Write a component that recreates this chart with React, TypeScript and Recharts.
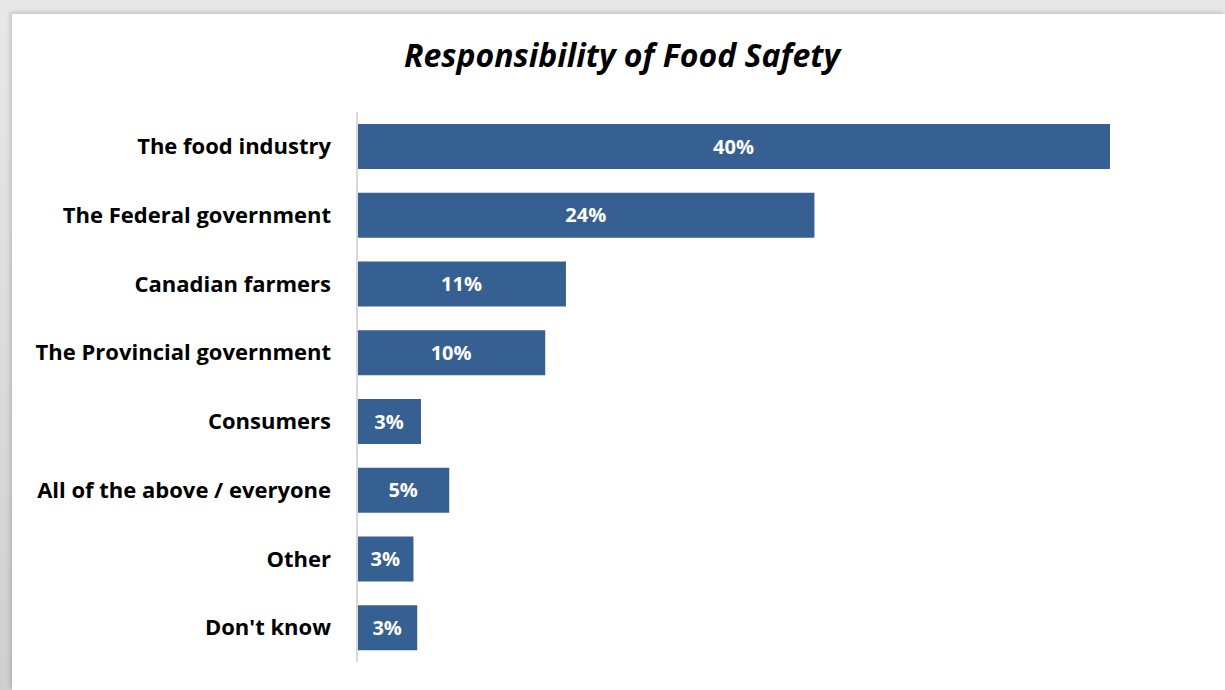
import React from "react";
import { BarChart, Bar, XAxis, YAxis, LabelList } from "recharts";

// survey answers, top to bottom
const categories = [
  "The food industry",
  "The Federal government",
  "Canadian farmers",
  "The Provincial government",
  "Consumers",
  "All of the above / everyone",
  "Other",
  "Don't know",
];
// bar lengths (labels show them rounded)
const shares = [40.0, 24.3, 11.1, 10.0, 3.4, 4.9, 3.0, 3.2];
const shownLabels = ["40%", "24%", "11%", "10%", "3%", "5%", "3%", "3%"];

const data = categories.map((name, i) => ({ name, share: shares[i], label: shownLabels[i] }));

const FONT = "'Open Sans', Lato, sans-serif";

export default function App() {
  return (
    <div style={{ position: "fixed", left: 0, top: 0, width: 1225, height: 690, background: "#fff", overflow: "hidden" }}>
      {/* grey frame shadow on the top and left edge */}
      <div style={{ position: "absolute", left: 0, top: 0, width: 1225, height: 690, background: "linear-gradient(#e8e8e8, #cfcfcf)" }} />
      <div
        style={{
          position: "absolute",
          left: 12,
          top: 14,
          width: 1213,
          height: 676,
          background: "#fff",
          boxShadow: "-2px -2px 4px rgba(0,0,0,0.15)",
        }}
      >
        <div
          style={{
            position: "absolute",
            left: 0,
            top: 19,
            width: 1220,
            textAlign: "center",
            fontFamily: FONT,
            fontWeight: 700,
            fontStyle: "italic",
            fontSize: 32,
            color: "#000",
          }}
        >
          Responsibility of Food Safety
        </div>
        <BarChart
          width={1213}
          height={676}
          data={data}
          layout="vertical"
          margin={{ top: 98, right: 115, bottom: 28, left: 0 }}
          barCategoryGap={12}
          style={{ position: "absolute", left: 0, top: 0 }}
        >
          <XAxis type="number" domain={[0, 40]} hide />
          <YAxis
            type="category"
            dataKey="name"
            width={345}
            tickLine={false}
            tickSize={0}
            tickMargin={26}
            axisLine={{ stroke: "#d9d9d9", strokeWidth: 2 }}
            tick={{ fill: "#000", fontSize: 22, fontWeight: 700, fontFamily: FONT }}
            interval={0}
          />
          <Bar dataKey="share" fill="#366092" barSize={45} isAnimationActive={false}>
            <LabelList
              dataKey="label"
              position="center"
              fill="#fff"
              style={{ fontSize: 20, fontWeight: 700, fontFamily: FONT }}
            />
          </Bar>
        </BarChart>
      </div>
    </div>
  );
}
